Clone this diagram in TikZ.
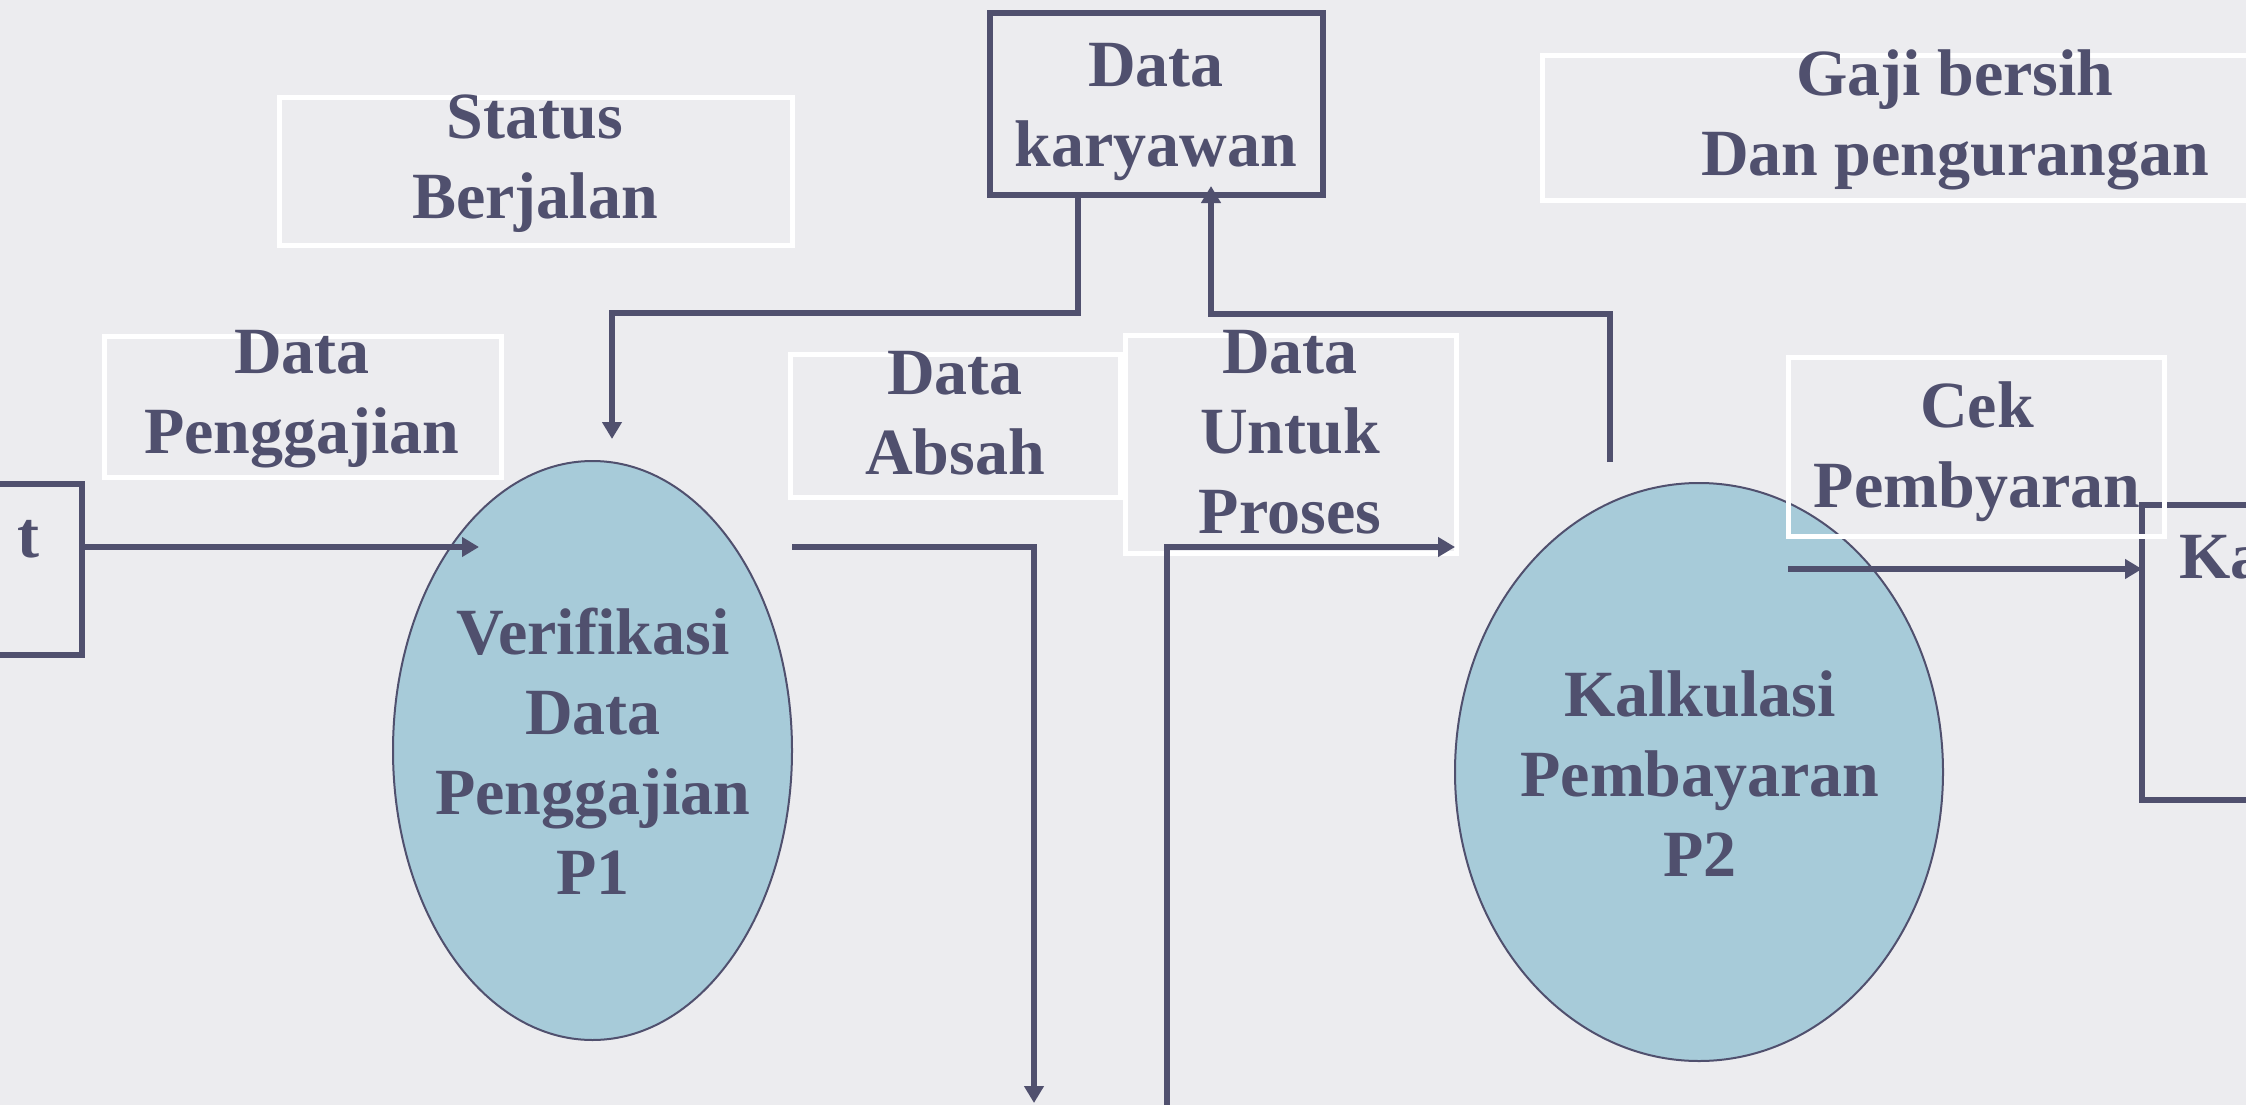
\documentclass[tikz,border=0pt]{standalone}
\usepackage{fontspec}
\setmainfont{Liberation Serif}
\usetikzlibrary{arrows.meta,shapes.geometric}
\definecolor{ink}{HTML}{50506E}
\definecolor{paper}{HTML}{ECECEF}
\definecolor{bubble}{HTML}{A7CBD9}
% stacked, centred lines whose baseline is the first line's baseline
\newcommand{\txtlines}[1]{\begin{tabular}[t]{@{}c@{}}#1\end{tabular}}
\begin{document}
\begin{tikzpicture}[x=1pt,y=-1pt,
  flow/.style={draw=ink, line width=5.5pt, -{Triangle[length=17pt,width=19pt]}},
  store/.style={rectangle, draw=ink, line width=5.5pt, inner sep=0pt, outer sep=0pt},
  tag/.style={rectangle, draw=white, line width=5pt, inner sep=0pt, outer sep=0pt},
  proc/.style={ellipse, draw=ink, line width=2pt, fill=bubble, inner sep=0pt, outer sep=0pt},
  lbl/.style={text=ink, font=\fontsize{66}{80}\selectfont\bfseries, inner sep=0pt, anchor=base}]

\path[use as bounding box] (0,0) rectangle (2246,1105);
\fill[paper] (0,0) rectangle (2246,1105);
\clip (0,0) rectangle (2246,1105);

% processes
\node[proc, minimum width=399pt, minimum height=579pt] (p1) at (592.5,750.5) {};
\node[proc, minimum width=488pt, minimum height=578pt] (p2) at (1699,772) {};

% data stores and external entities
\node[store, minimum width=333pt, minimum height=182pt] (dk) at (1156.5,104) {};
\node[store, minimum width=182pt, minimum height=171pt] (tbox) at (-9,569.5) {};
\node[store, minimum width=258pt, minimum height=295pt] (kabox) at (2271,652.5) {};

% label frames
\node[tag, minimum width=513pt, minimum height=147pt] (stbox) at (535.5,171.5) {};
\node[tag, minimum width=397pt, minimum height=141pt] (pgbox) at (302.5,406.5) {};
\node[tag, minimum width=330pt, minimum height=143pt] (abbox) at (955,425.5) {};
\node[tag, minimum width=331pt, minimum height=218pt] (upbox) at (1290.5,444) {};
\node[tag, minimum width=758pt, minimum height=144pt] (gjbox) at (1921,128) {};
\node[tag, minimum width=376pt, minimum height=179pt] (ckbox) at (1976,446.5) {};

% free ends of the flows
\coordinate (in1) at (479,547);
\coordinate (k1) at (612,439);
\coordinate (dn1) at (1034,1103);
\coordinate (up1) at (1167,1105);
\coordinate (p2up) at (1610,462);
\coordinate (p2out) at (1788,569);

% flows
\draw[flow] (tbox.east |- in1) -- (in1);
\draw[flow] ([xshift=-78.5pt]dk.south) -- ++(0,118) -| (k1);
\draw[flow] (p1.east |- in1) -| (dn1);
\draw[flow] (up1) |- (p2.west |- in1);
\draw[flow] (p2up) -- ++(0,-148) -| ([xshift=54.5pt,yshift=9pt]dk.south);
\draw[flow] (p2out) -- (kabox.west |- p2out);

% texts
\node[lbl] (dkt) at (1156,87) {\txtlines{Data\\karyawan}};
\node[lbl] (stt) at (535,139) {\txtlines{Status\\Berjalan}};
\node[lbl] (pgt) at (302,373) {\txtlines{Data\\Penggajian}};
\node[lbl] (abt) at (955,394) {\txtlines{Data\\Absah}};
\node[lbl] (upt) at (1290,373) {\txtlines{Data\\Untuk\\Proses}};
\node[lbl] (gjt) at (1955,96) {\txtlines{Gaji bersih\\Dan pengurangan}};
\node[lbl] (ckt) at (1977,427) {\txtlines{Cek\\Pembyaran}};
\node[lbl] (p1t) at (593,654) {\txtlines{Verifikasi\\Data\\Penggajian\\P1}};
\node[lbl] (p2t) at (1700,716) {\txtlines{Kalkulasi\\Pembayaran\\P2}};
\node[lbl] (tt) at (28,557) {t};
\node[lbl, anchor=base west] (kat) at (2179,578) {Ka};
\end{tikzpicture}
\end{document}
